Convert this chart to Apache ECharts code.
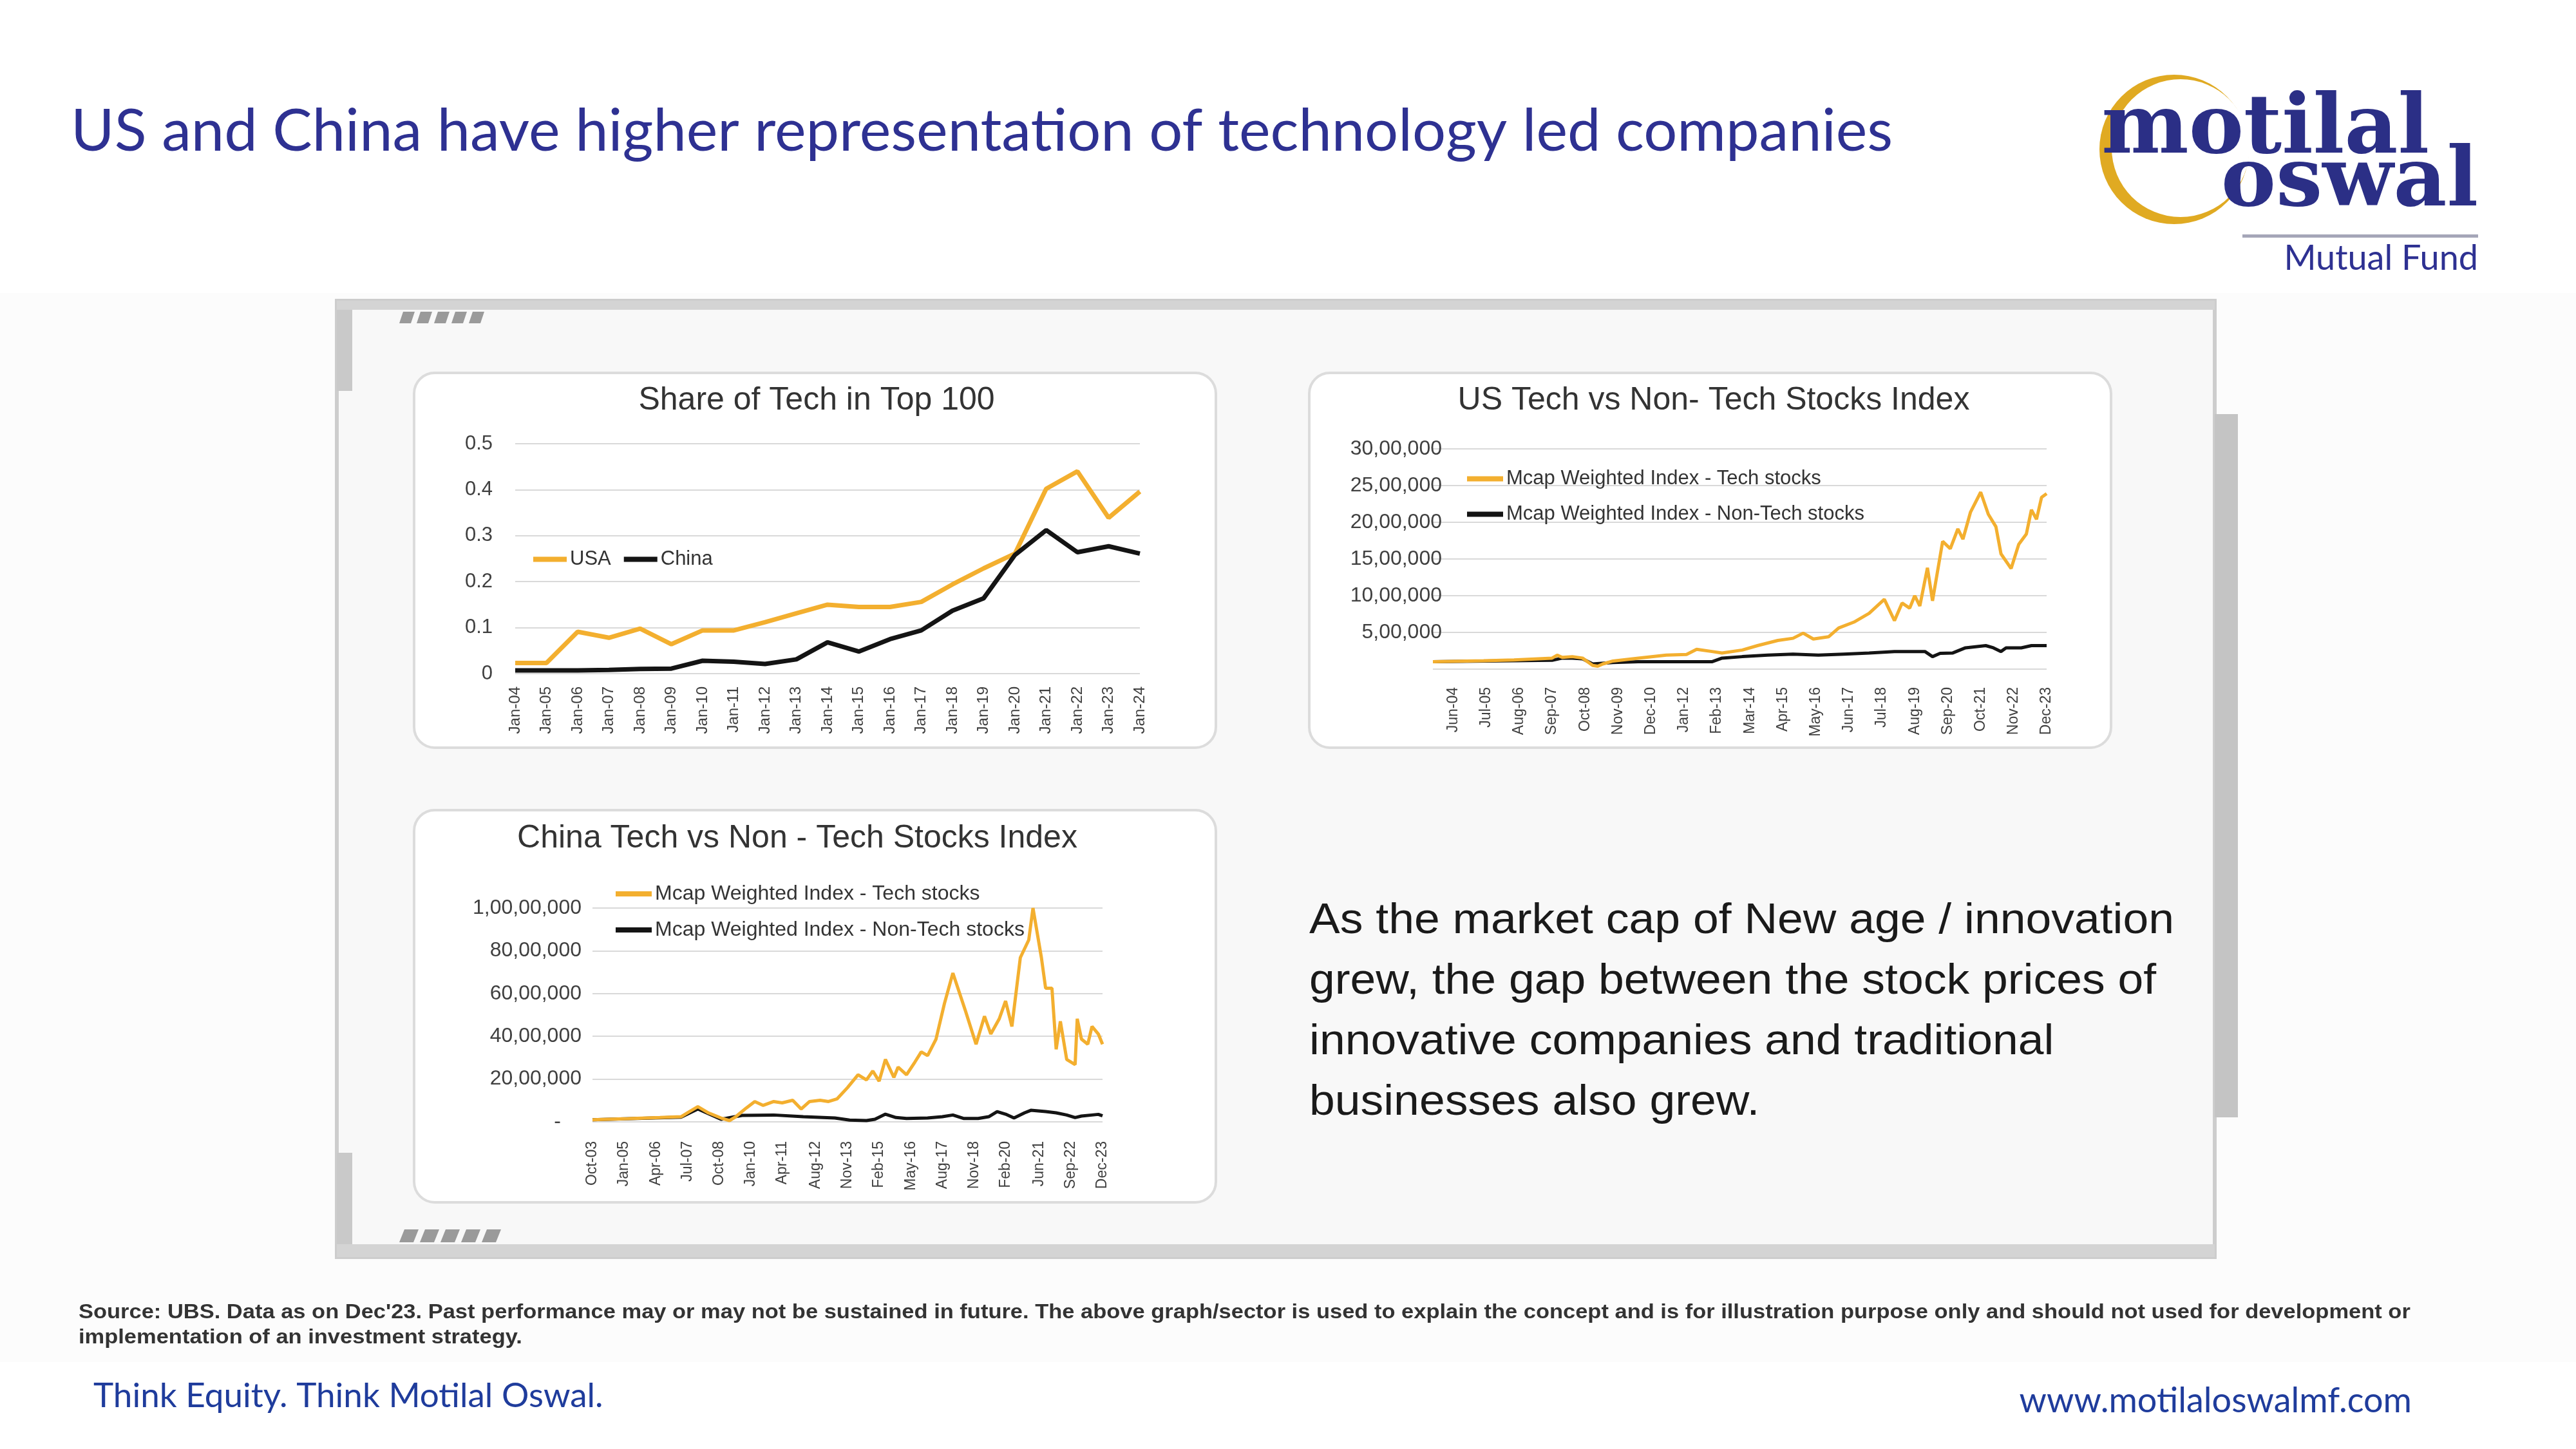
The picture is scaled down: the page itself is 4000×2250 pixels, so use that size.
<!DOCTYPE html>
<html><head><meta charset="utf-8">
<script src="https://cdn.jsdelivr.net/npm/echarts@6/dist/echarts.min.js"></script>
<style>html,body{margin:0;padding:0;background:#fff}#c{width:4000px;height:2250px}</style>
</head><body><div id="c"></div>
<script>
// ---------- DATA ----------
const shareCategories = ['Jan-04','Jan-05','Jan-06','Jan-07','Jan-08','Jan-09','Jan-10','Jan-11','Jan-12','Jan-13','Jan-14','Jan-15','Jan-16','Jan-17','Jan-18','Jan-19','Jan-20','Jan-21','Jan-22','Jan-23','Jan-24'];
const shareUSA   = [0.023,0.023,0.091,0.078,0.098,0.064,0.094,0.094,0.112,0.131,0.150,0.145,0.145,0.156,0.194,0.229,0.261,0.402,0.440,0.339,0.396];
const shareChina = [0.007,0.007,0.007,0.008,0.010,0.011,0.028,0.026,0.021,0.031,0.068,0.048,0.075,0.094,0.137,0.164,0.258,0.312,0.264,0.277,0.261];

const MONTHS = ['Jan','Feb','Mar','Apr','May','Jun','Jul','Aug','Sep','Oct','Nov','Dec'];
function monthRange(y0, m0, y1, m1) {
  const out = [];
  for (let y = y0, m = m0; y < y1 || (y === y1 && m <= m1); ) {
    out.push(MONTHS[m] + '-' + String(y % 100).padStart(2, '0'));
    m++; if (m > 11) { m = 0; y++; }
  }
  return out;
}
const monthCategories = monthRange(2003, 9, 2023, 11); // Oct-03 .. Dec-23

const usTickLabels = ['Jun-04','Jul-05','Aug-06','Sep-07','Oct-08','Nov-09','Dec-10','Jan-12','Feb-13','Mar-14','Apr-15','May-16','Jun-17','Jul-18','Aug-19','Sep-20','Oct-21','Nov-22','Dec-23'];
const chinaTickLabels = ['Oct-03','Jan-05','Apr-06','Jul-07','Oct-08','Jan-10','Apr-11','Aug-12','Nov-13','Feb-15','May-16','Aug-17','Nov-18','Feb-20','Jun-21','Sep-22','Dec-23'];

const usTech = [
  ['Oct-03',100000],['Jun-05',115000],['Jun-06',125000],['Sep-07',150000],['Nov-07',190000],['Jan-08',160000],
  ['May-08',170000],['Sep-08',150000],['Jan-09',50000],['Mar-09',40000],['May-09',70000],['Sep-09',110000],
  ['Jul-10',150000],['Jun-11',190000],['Feb-12',200000],['Jun-12',270000],['Dec-12',240000],['Apr-13',220000],
  ['Dec-13',260000],['Jun-14',320000],['Feb-15',390000],['Aug-15',420000],['Dec-15',490000],['Apr-16',410000],
  ['Oct-16',440000],['Feb-17',560000],['Aug-17',640000],['Feb-18',760000],['Aug-18',950000],['Dec-18',660000],
  ['Mar-19',900000],['Jun-19',830000],['Aug-19',1000000],['Oct-19',860000],['Jan-20',1380000],['Mar-20',930000],
  ['Jul-20',1740000],['Oct-20',1640000],['Jan-21',1910000],['Mar-21',1770000],['Jun-21',2140000],['Oct-21',2410000],
  ['Jan-22',2110000],['Apr-22',1940000],['Jun-22',1570000],['Oct-22',1370000],['Jan-23',1700000],['Apr-23',1840000],
  ['Jun-23',2170000],['Aug-23',2040000],['Oct-23',2340000],['Dec-23',2390000]
];
const usNonTech = [
  ['Oct-03',100000],['Sep-07',120000],['Jan-08',150000],['May-08',150000],['Sep-08',140000],['Jan-09',70000],
  ['Sep-09',90000],['Jul-10',100000],['Dec-12',100000],['Apr-13',150000],['Dec-13',170000],['Oct-14',190000],
  ['Aug-15',205000],['Jun-16',190000],['Apr-17',205000],['Feb-18',220000],['Dec-18',240000],['Dec-19',240000],
  ['Mar-20',170000],['Jun-20',215000],['Nov-20',220000],['Apr-21',290000],['Dec-21',320000],['Mar-22',290000],
  ['Jun-22',240000],['Aug-22',290000],['Feb-23',290000],['Jun-23',320000],['Dec-23',320000]
];
const chinaTech = [
  ['Oct-03',100000],['Mar-05',150000],['Jun-06',200000],['Apr-07',240000],['Aug-07',480000],['Dec-07',710000],
  ['May-08',420000],['Nov-08',180000],['Mar-09',60000],['Jun-09',240000],['Nov-09',650000],['Mar-10',950000],
  ['Jul-10',770000],['Dec-10',950000],['Apr-11',890000],['Sep-11',1010000],['Jan-12',600000],['May-12',950000],
  ['Oct-12',1010000],['Feb-13',950000],['Jun-13',1070000],['Nov-13',1600000],['Apr-14',2200000],['Aug-14',1960000],
  ['Nov-14',2380000],['Feb-15',1900000],['May-15',2920000],['Sep-15',2080000],['Nov-15',2560000],['Mar-16',2200000],
  ['Jul-16',2800000],['Oct-16',3270000],['Jan-17',3100000],['May-17',3870000],['Sep-17',5540000],['Jan-18',6960000],
  ['Jul-18',5180000],['Dec-18',3630000],['Apr-19',4940000],['Jul-19',4110000],['Nov-19',4820000],['Feb-20',5650000],
  ['May-20',4460000],['Sep-20',7680000],['Jan-21',8510000],['Mar-21',10000000],['Jul-21',7680000],['Sep-21',6250000],
  ['Dec-21',6250000],['Feb-22',3390000],['Apr-22',4700000],['Jul-22',2920000],['Nov-22',2680000],['Dec-22',4820000],
  ['Feb-23',3870000],['May-23',3630000],['Jul-23',4460000],['Oct-23',4110000],['Dec-23',3630000]
];
const chinaNonTech = [
  ['Oct-03',100000],['Apr-07',220000],['Dec-07',600000],['Nov-08',120000],['Sep-09',300000],['Dec-10',320000],
  ['Feb-12',240000],['May-13',180000],['Dec-13',80000],['Aug-14',60000],['Dec-14',120000],['May-15',360000],
  ['Oct-15',200000],['Mar-16',160000],['Jan-17',180000],['Aug-17',240000],['Jan-18',320000],['Jun-18',160000],
  ['Jan-19',160000],['Jun-19',240000],['Oct-19',480000],['Feb-20',360000],['Jun-20',180000],['Nov-20',420000],
  ['Feb-21',540000],['Sep-21',480000],['Feb-22',420000],['Jul-22',320000],['Nov-22',200000],['Feb-23',270000],
  ['Jul-23',320000],['Oct-23',350000],['Dec-23',280000]
];

const TECH = 'Mcap Weighted Index - Tech stocks';
const NONTECH = 'Mcap Weighted Index - Non-Tech stocks';
const GOLD = '#f3af2f', BLACK = '#141414';
const FONT = '"Liberation Sans", Arial, sans-serif';
const SLIDE_FONT = 'Lato, "Open Sans", sans-serif';

function formatIN(v, zero) {
  if (v === 0) return zero;
  const s = String(Math.round(v));
  const last3 = s.slice(-3);
  let rest = s.slice(0, -3);
  if (!rest) return last3;
  rest = rest.replace(/\B(?=(\d{2})+(?!\d))/g, ',');
  return rest + ',' + last3;
}

const chart = echarts.init(document.getElementById('c'), null, {renderer: 'canvas'});

const labelStyle = {color: '#404040', fontFamily: FONT};
function catAxis(gridIndex, data, margin, fontSize, intervalFn) {
  return {
    type: 'category', gridIndex, data, boundaryGap: false,
    axisLine: {show: false}, axisTick: {show: false},
    axisLabel: Object.assign({rotate: 90, fontSize, margin, interval: intervalFn === undefined ? 0 : intervalFn}, labelStyle),
    splitLine: {show: false}
  };
}
function valAxis(gridIndex, max, interval, margin, fontSize, formatter) {
  return {
    type: 'value', gridIndex, min: 0, max, interval,
    axisLine: {show: false}, axisTick: {show: false},
    axisLabel: Object.assign({fontSize, margin, formatter}, labelStyle),
    splitLine: {lineStyle: {color: '#d9d9d9', width: 2}}
  };
}

// decorative stripes on the frame
function stripes(x0, y0, h, n, w, gap, slant) {
  const out = [];
  for (let i = 0; i < n; i++) {
    const x = x0 + i * (w + gap);
    out.push({type: 'polygon', z: -22, shape: {points: [[x + slant, y0], [x + slant + w, y0], [x + w, y0 + h], [x, y0 + h]]}, style: {fill: '#9a9a9a'}});
  }
  return out;
}

const option = {
  backgroundColor: '#ffffff',
  animation: false,
  textStyle: {fontFamily: FONT},
  grid: [
    {left: 800, top: 689, width: 970, height: 357},
    {left: 2225, top: 697, width: 953, height: 342},
    {left: 920, top: 1410, width: 792, height: 332}
  ],
  xAxis: [
    catAxis(0, shareCategories, 20, 24),
    catAxis(1, monthCategories, 28, 23, (i, v) => usTickLabels.includes(v)),
    catAxis(2, monthCategories, 30, 23, (i, v) => chinaTickLabels.includes(v))
  ],
  yAxis: [
    valAxis(0, 0.5, 0.1, 35, 31, v => String(+v.toFixed(1))),
    valAxis(1, 3000000, 500000, -14, 32, v => formatIN(v, '')),
    valAxis(2, 10000000, 2000000, 17, 32, v => formatIN(v, '-\u2003'))
  ],
  legend: [
    {data: ['USA', 'China'], left: 823, top: 848, orient: 'horizontal', icon: 'rect', itemWidth: 52, itemHeight: 8, itemGap: 20,
     textStyle: {fontSize: 31, color: '#333', fontFamily: FONT}, selectedMode: false},
    {data: [TECH, NONTECH], left: 2273, top: 723, orient: 'vertical', icon: 'rect', itemWidth: 56, itemHeight: 8, itemGap: 24,
     textStyle: {fontSize: 31, color: '#333', fontFamily: FONT}, selectedMode: false},
    {data: [TECH, NONTECH], left: 951, top: 1367, orient: 'vertical', icon: 'rect', itemWidth: 56, itemHeight: 8, itemGap: 24,
     textStyle: {fontSize: 32, color: '#333', fontFamily: FONT}, selectedMode: false}
  ],
  series: [
    {name: 'USA', type: 'line', xAxisIndex: 0, yAxisIndex: 0, data: shareUSA, symbol: 'none', color: GOLD, lineStyle: {width: 7, color: GOLD}},
    {name: 'China', type: 'line', xAxisIndex: 0, yAxisIndex: 0, data: shareChina, symbol: 'none', color: BLACK, lineStyle: {width: 7, color: BLACK}},
    {name: NONTECH, type: 'line', xAxisIndex: 1, yAxisIndex: 1, data: usNonTech, symbol: 'none', color: BLACK, lineStyle: {width: 5, color: BLACK}},
    {name: TECH, type: 'line', xAxisIndex: 1, yAxisIndex: 1, data: usTech, symbol: 'none', color: GOLD, lineStyle: {width: 5, color: GOLD}},
    {name: NONTECH, type: 'line', xAxisIndex: 2, yAxisIndex: 2, data: chinaNonTech, symbol: 'none', color: BLACK, lineStyle: {width: 5, color: BLACK}},
    {name: TECH, type: 'line', xAxisIndex: 2, yAxisIndex: 2, data: chinaTech, symbol: 'none', color: GOLD, lineStyle: {width: 5, color: GOLD}}
  ],
  graphic: [
    // faint background band
    {type: 'rect', z: -30, shape: {x: 0, y: 455, width: 4000, height: 1660}, style: {fill: '#fcfcfc'}},
    // frame
    {type: 'rect', z: -25, shape: {x: 523, y: 467, width: 2916, height: 1485}, style: {fill: '#f8f8f8', stroke: '#cdcdcd', lineWidth: 6}},
    {type: 'rect', z: -24, shape: {x: 3439, y: 643, width: 36, height: 1092}, style: {fill: '#c4c4c4'}},
    {type: 'rect', z: -24, shape: {x: 523, y: 467, width: 24, height: 140}, style: {fill: '#c9c9c9'}},
    {type: 'rect', z: -24, shape: {x: 523, y: 1790, width: 24, height: 162}, style: {fill: '#c9c9c9'}},
    {type: 'rect', z: -24, shape: {x: 523, y: 467, width: 2916, height: 14}, style: {fill: '#d4d4d4'}},
    {type: 'rect', z: -24, shape: {x: 523, y: 1932, width: 2916, height: 20}, style: {fill: '#d4d4d4'}},
    ...stripes(620, 484, 18, 5, 18, 9, 6),
    ...stripes(620, 1909, 20, 5, 22, 10, 8),
    // panels
    {type: 'rect', z: -20, shape: {x: 643, y: 579, width: 1245, height: 582, r: 32}, style: {fill: '#ffffff', stroke: '#dcdcdc', lineWidth: 4}},
    {type: 'rect', z: -20, shape: {x: 2033, y: 579, width: 1245, height: 582, r: 32}, style: {fill: '#ffffff', stroke: '#dcdcdc', lineWidth: 4}},
    {type: 'rect', z: -20, shape: {x: 643, y: 1258, width: 1245, height: 609, r: 32}, style: {fill: '#ffffff', stroke: '#dcdcdc', lineWidth: 4}},
    // chart titles
    {type: 'text', z: 50, style: {x: 1268, y: 622, text: 'Share of Tech in Top 100', font: '50px ' + FONT, fill: '#333', textAlign: 'center', textVerticalAlign: 'middle'}},
    {type: 'text', z: 50, style: {x: 2661, y: 622, text: 'US Tech vs Non- Tech Stocks Index', font: '50px ' + FONT, fill: '#333', textAlign: 'center', textVerticalAlign: 'middle'}},
    {type: 'text', z: 50, style: {x: 1238, y: 1302, text: 'China Tech vs Non - Tech Stocks Index', font: '50px ' + FONT, fill: '#333', textAlign: 'center', textVerticalAlign: 'middle'}},
    // slide title
    {type: 'text', z: 50, style: {x: 110, y: 204, text: 'US and China have higher representation of technology led companies', font: '92px ' + SLIDE_FONT, fill: '#2e3192', textVerticalAlign: 'middle'}},
    // description
    {type: 'text', z: 50, x: 2033, y: 1384, scaleX: 1.083, style: {x: 0, y: 0, text: 'As the market cap of New age / innovation\ngrew, the gap between the stock prices of\ninnovative companies and traditional\nbusinesses also grew.', font: '66px ' + FONT, lineHeight: 94, fill: '#1a1a1a', textVerticalAlign: 'top'}},
    // source
    {type: 'text', z: 50, x: 122, y: 2019, scaleX: 1.112, style: {x: 0, y: 0, text: "Source: UBS. Data as on Dec'23. Past performance may or may not be sustained in future. The above graph/sector is used to explain the concept and is for illustration purpose only and should not used for development or\nimplementation of an investment strategy.", font: 'bold 31px ' + FONT, lineHeight: 39, fill: '#333', textVerticalAlign: 'top'}},
    // footer
    {type: 'text', z: 50, style: {x: 145, y: 2168, text: 'Think Equity. Think Motilal Oswal.', font: '53px ' + SLIDE_FONT, fill: '#1f3c9c', textVerticalAlign: 'middle'}},
    {type: 'text', z: 50, style: {x: 3745, y: 2176, text: 'www.motilaloswalmf.com', font: '54px ' + SLIDE_FONT, fill: '#1f3c9c', textAlign: 'right', textVerticalAlign: 'middle'}},
    // logo
    {type: 'circle', z: 40, shape: {cx: 3376, cy: 232, r: 116}, style: {fill: '#e0aa22'}},
    {type: 'circle', z: 41, shape: {cx: 3386, cy: 230, r: 107}, style: {fill: '#ffffff'}},
    {type: 'text', z: 50, style: {x: 3772, y: 268, text: 'motilal', font: 'bold 128px "DejaVu Serif", serif', fill: '#2b2f86', textAlign: 'right', textVerticalAlign: 'bottom'}},
    {type: 'text', z: 50, style: {x: 3848, y: 350, text: 'oswal', font: 'bold 128px "DejaVu Serif", serif', fill: '#2b2f86', textAlign: 'right', textVerticalAlign: 'bottom'}},
    {type: 'rect', z: 50, shape: {x: 3482, y: 364, width: 366, height: 5}, style: {fill: '#a5a6b8'}},
    {type: 'text', z: 50, style: {x: 3848, y: 402, text: 'Mutual Fund', font: '54px ' + SLIDE_FONT, fill: '#2e3192', textAlign: 'right', textVerticalAlign: 'middle'}}
  ]
};
chart.setOption(option);
</script>
</body></html>
